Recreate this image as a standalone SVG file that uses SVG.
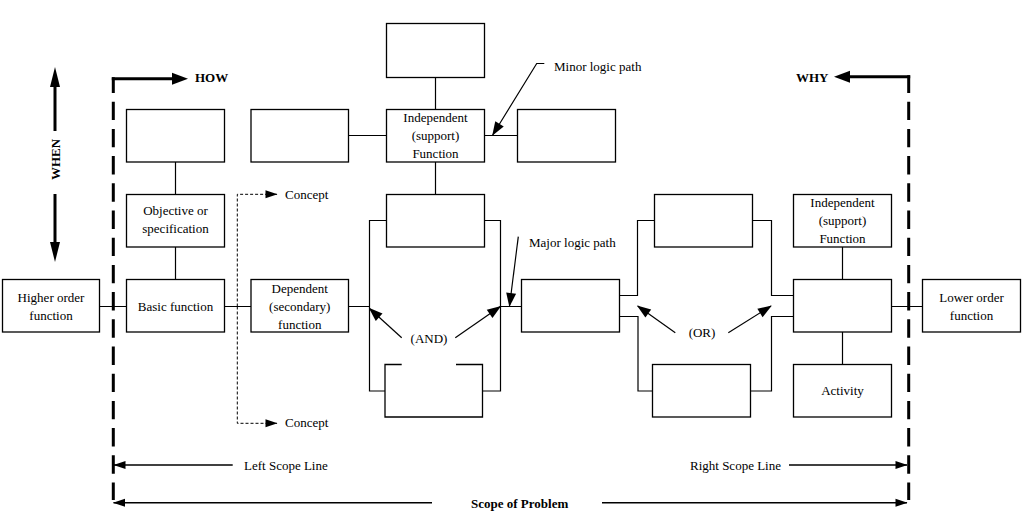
<svg xmlns="http://www.w3.org/2000/svg" width="1023" height="528" viewBox="0 0 1023 528">
<style>
  .box{fill:#fff;stroke:#000;stroke-width:1.3}
  .c{fill:none;stroke:#000;stroke-width:1.2}
  .t{font-family:"Liberation Serif","Times New Roman",serif;font-size:13px;fill:#000}
  .m{text-anchor:middle}
  .b{font-weight:bold}
  .dash{fill:none;stroke:#000;stroke-width:3;stroke-dasharray:18.4 8.8}
  .thick{fill:none;stroke:#000;stroke-width:3}
  .cd{fill:none;stroke:#000;stroke-width:1;stroke-dasharray:3 2}
</style>
<defs>
  <marker id="ah" markerUnits="userSpaceOnUse" markerWidth="14" markerHeight="10" refX="13" refY="5" orient="auto" overflow="visible"><path d="M0,0 L14,5 L0,10 z" fill="#000"/></marker>
  <marker id="as" markerUnits="userSpaceOnUse" markerWidth="12" markerHeight="8" refX="11.5" refY="4" orient="auto" overflow="visible"><path d="M0,0 L12,4 L0,8 z" fill="#000"/></marker>
  <marker id="ab" markerUnits="userSpaceOnUse" markerWidth="16" markerHeight="12" refX="0" refY="6" orient="auto" overflow="visible"><path d="M0,0 L16,6 L0,12 z" fill="#000"/></marker>
  <marker id="aw" markerUnits="userSpaceOnUse" markerWidth="20" markerHeight="10" refX="0" refY="5" orient="auto" overflow="visible"><path d="M0,0 L20,5 L0,10 z" fill="#000"/></marker>
</defs>
<rect width="1023" height="528" fill="#fff"/>

<g id="scope">
  <line class="dash" x1="113.3" y1="77.2" x2="113.3" y2="500" stroke-dashoffset="2.7"/>
  <line class="dash" x1="908.7" y1="75.2" x2="908.7" y2="500" stroke-dashoffset="0.7"/>
  <line class="thick" x1="111.8" y1="78.7" x2="172" y2="78.7" marker-end="url(#ab)"/>
  <line class="thick" x1="910.2" y1="76.7" x2="850" y2="76.7" marker-end="url(#ab)"/>
  <text class="t b" x="195" y="81.5">HOW</text>
  <text class="t b" x="796" y="82">WHY</text>
  <line class="thick" x1="55" y1="131" x2="55" y2="87" marker-end="url(#aw)"/>
  <line class="thick" x1="55" y1="194" x2="55" y2="242" marker-end="url(#aw)"/>
  <text class="t b m" x="55" y="164" transform="rotate(-90 55 159.5)">WHEN</text>
  <line class="c" style="stroke-width:1.5" x1="232.7" y1="465" x2="114" y2="465" marker-end="url(#as)"/>
  <line class="c" style="stroke-width:1.5" x1="789" y1="465" x2="907" y2="465" marker-end="url(#as)"/>
  <line class="c" style="stroke-width:1.5" x1="432" y1="502.7" x2="113.5" y2="502.7" marker-end="url(#as)"/>
  <line class="c" style="stroke-width:1.5" x1="602" y1="502.7" x2="907" y2="502.7" marker-end="url(#as)"/>
  <text class="t" x="244" y="469.5">Left Scope Line</text>
  <text class="t" x="690" y="469.5">Right Scope Line</text>
  <text class="t b" x="471" y="507.5">Scope of Problem</text>
</g>

<g id="connectors">
  <path class="c" d="M99.5,306.5 H126.5 M224.5,306.5 H251 M348.5,306.5 H369.5 M500.5,306.5 H521.5 M891.5,306.5 H922.5"/>
  <path class="c" d="M175.5,162 V194.5 M175.5,247 V279.5 M435.5,77.5 V109.5 M435.5,162 V194.5 M842.5,247 V279.5 M842.5,332 V364.5"/>
  <path class="c" d="M348.5,135.5 H386.5 M484.5,135.5 H517.5"/>
  <path class="c" d="M386.5,220.5 H369.5 V391 H385 M484.5,220.5 H500.5 V391 H482.5"/>
  <path class="c" d="M619.5,295.5 H637.5 V220.5 H654.5 M619.5,316.5 H638 V391 H652.5 M752.5,220.5 H771.5 V295.5 H793.5 M750.5,391 H771.5 V316.5 H793.5"/>
  <path class="cd" d="M237.3,306.5 V194.3 H277" marker-end="url(#as)"/>
  <path class="cd" d="M237.3,306.5 V423.3 H277" marker-end="url(#as)"/>
  <path class="c" d="M544.3,63.5 H536.7 L492.7,135" marker-end="url(#ah)"/>
  <path class="c" d="M518.3,236.7 L509.5,306" marker-end="url(#ah)"/>
  <path class="c" d="M401.7,337.7 L369.5,308.5" marker-end="url(#ah)"/>
  <path class="c" d="M455.3,337.7 L500.3,306.5" marker-end="url(#ah)"/>
  <path class="c" d="M675.3,332.7 L637.7,306" marker-end="url(#ah)"/>
  <path class="c" d="M728.3,332.7 L771,306" marker-end="url(#ah)"/>
  <text class="t" x="554" y="71">Minor logic path</text>
  <text class="t" x="529" y="246.5">Major logic path</text>
  <text class="t m" x="429" y="342.5">(AND)</text>
  <text class="t m" x="702" y="337">(OR)</text>
  <text class="t" x="285" y="198.5">Concept</text>
  <text class="t" x="285" y="427">Concept</text>
</g>

<g id="n-higher"><rect class="box" x="2.5" y="279.5" width="97" height="52.5"/>
  <text class="t m" x="51" y="301.5">Higher order</text><text class="t m" x="51" y="319.5">function</text></g>
<g id="n-basic"><rect class="box" x="126.5" y="279.5" width="98" height="52.5"/>
  <text class="t m" x="175.5" y="310.5">Basic function</text></g>
<g id="n-objective"><rect class="box" x="126.5" y="194.5" width="98" height="52.5"/>
  <text class="t m" x="175.5" y="215">Objective or</text><text class="t m" x="175.5" y="233">specification</text></g>
<g id="n-goal"><rect class="box" x="126.5" y="109.5" width="98" height="52.5"/></g>
<g id="n-left-support"><rect class="box" x="251" y="109.5" width="97.5" height="52.5"/></g>
<g id="n-dependent"><rect class="box" x="251" y="279.5" width="97.5" height="52.5"/>
  <text class="t m" x="299.75" y="292.5">Dependent</text><text class="t m" x="299.75" y="310.5">(secondary)</text><text class="t m" x="299.75" y="328.5">function</text></g>
<g id="n-top"><rect class="box" x="386.5" y="23.5" width="98" height="54"/></g>
<g id="n-independent1"><rect class="box" x="386.5" y="109.5" width="98" height="52.5"/>
  <text class="t m" x="435.5" y="122">Independent</text><text class="t m" x="435.5" y="140">(support)</text><text class="t m" x="435.5" y="158">Function</text></g>
<g id="n-right-support"><rect class="box" x="517.5" y="109.5" width="98" height="52.5"/></g>
<g id="n-and-top"><rect class="box" x="386.5" y="194.5" width="98" height="52.5"/></g>
<g id="n-and-bottom"><path class="box" d="M401.7,364.5 H385 V417 H482.5 V364.5 H456"/></g>
<g id="n-center"><rect class="box" x="521.5" y="279.5" width="98" height="52.5"/></g>
<g id="n-or-top"><rect class="box" x="654.5" y="194.5" width="98" height="52.5"/></g>
<g id="n-or-bottom"><rect class="box" x="652.5" y="364.5" width="98" height="52.5"/></g>
<g id="n-independent2"><rect class="box" x="793.5" y="194.5" width="98" height="52.5"/>
  <text class="t m" x="842.5" y="207">Independent</text><text class="t m" x="842.5" y="225">(support)</text><text class="t m" x="842.5" y="243">Function</text></g>
<g id="n-right"><rect class="box" x="793.5" y="279.5" width="98" height="52.5"/></g>
<g id="n-activity"><rect class="box" x="793.5" y="364.5" width="98" height="52.5"/>
  <text class="t m" x="842.5" y="395">Activity</text></g>
<g id="n-lower"><rect class="box" x="922.5" y="279.5" width="98" height="52.5"/>
  <text class="t m" x="971.5" y="301.5">Lower order</text><text class="t m" x="971.5" y="319.5">function</text></g>
</svg>
